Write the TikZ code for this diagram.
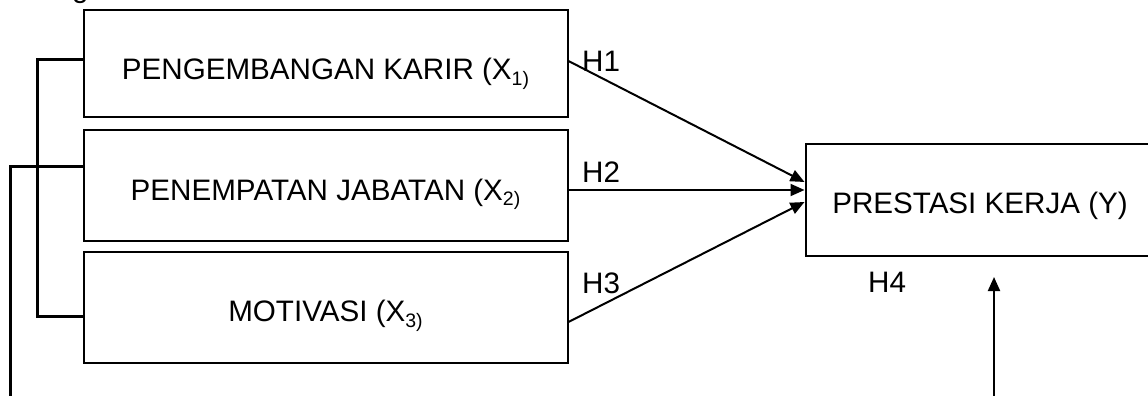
\documentclass[tikz,border=0pt]{standalone}
\usepackage{fontspec}
\setmainfont{Liberation Sans}
\usetikzlibrary{arrows.meta,calc}
\newcommand{\lowsub}[1]{\raisebox{-5.5pt}{\fontsize{19.5}{19.5}\selectfont #1}}
\begin{document}
\begin{tikzpicture}[x=1pt,y=-1pt,
  every node/.style={font=\fontsize{29.6}{29.6}\selectfont},
  varbox/.style={draw,line width=2pt,inner sep=0pt,minimum width=484pt,minimum height=111pt,text depth=0pt},
  brk/.style={line width=3pt},
  hyp/.style={line width=2pt,-{Triangle[length=14pt,width=12pt]}},
  lab/.style={anchor=base west,inner sep=0pt}]
\useasboundingbox (0,0) rectangle (1148,396);
\clip (0,0) rectangle (1148,396);
% partial text above
\node[lab] (gg) at (72,-2) {g};
% boxes
\node[varbox,minimum height=107pt,text height=33pt] (b1) at (325.5,63.5) {PENGEMBANGAN KARIR (X\lowsub{1)}};
\node[varbox,text height=29pt] (b2) at (325.5,185.5) {PENEMPATAN JABATAN (X\lowsub{2)}};
\node[varbox,text height=28.5pt] (b3) at (325.5,307.5) {MOTIVASI (X\lowsub{3)}};
\node[varbox,minimum width=349pt,minimum height=112pt,text height=27pt] (y) at (980,200) {PRESTASI KERJA (Y)};
% bracket
\coordinate (j1) at (37,60);
\coordinate (j3) at (37,316);
\coordinate (o1) at (10,166);
\coordinate (o2) at (10,400);
\draw[brk] (b1.west |- j1) -- (j1) -- (j3) -- (b3.west |- j3);
\draw[brk] (b2.west |- o1) -- (o1) -- (o2);
% hypothesis arrows
\draw[hyp] (b1.east |- 0,61) -- (y.west |- 0,182);
\draw[hyp] (b2.east |- 0,190) -- (y.west |- 0,190);
\draw[hyp] (b3.east |- 0,322) -- (y.west |- 0,202);
\coordinate (h4s) at (994,400);
\coordinate (h4e) at (994,277);
\draw[hyp] (h4s) -- (h4e);
% labels
\node[lab] (h1) at (582,71.7) {H1};
\node[lab] (h2) at (582,182.7) {H2};
\node[lab] (h3) at (582,293.3) {H3};
\node[lab] (h4) at (868,292.7) {H4};
\end{tikzpicture}
\end{document}
